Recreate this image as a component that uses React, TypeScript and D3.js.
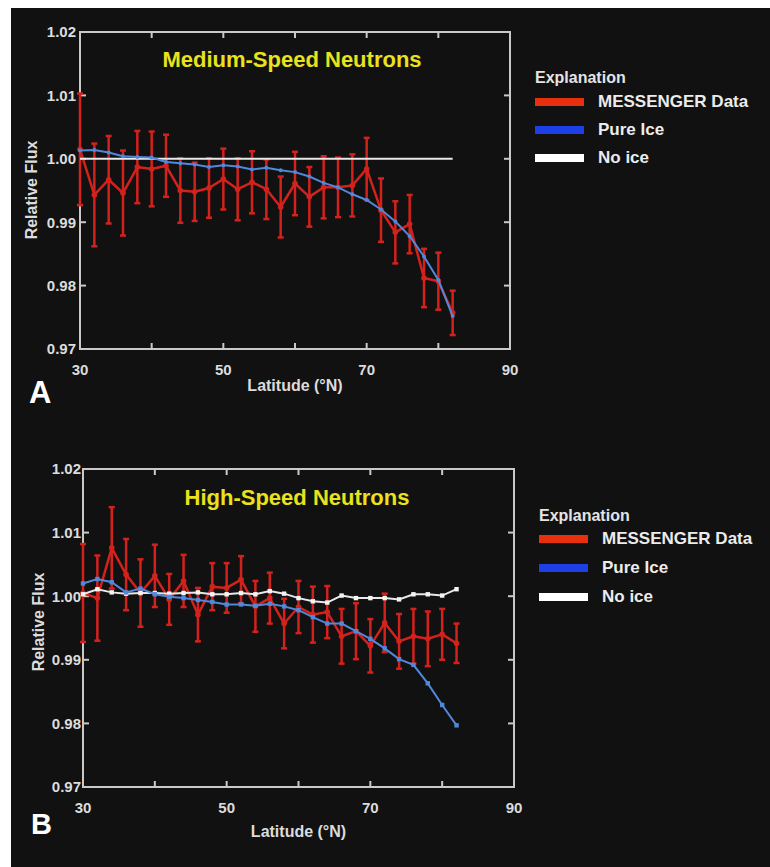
import React from "react";
import * as d3 from "d3";

const LAT = [30, 32, 34, 36, 38, 40, 42, 44, 46, 48, 50, 52, 54, 56, 58, 60, 62, 64, 66, 68, 70, 72, 74, 76, 78, 80, 82];

const MED_DATA = [1.0015, 0.9943, 0.9967, 0.9946, 0.9987, 0.9984, 0.9989, 0.995, 0.9948, 0.9954, 0.9968, 0.9952, 0.9963, 0.9952, 0.9924, 0.9961, 0.994, 0.9955, 0.9955, 0.9958, 0.9984, 0.9919, 0.9884, 0.9897, 0.9812, 0.9807, 0.9757];
const MED_ERR = [0.0088, 0.0081, 0.0069, 0.0067, 0.0057, 0.0059, 0.0049, 0.0051, 0.0046, 0.0047, 0.0048, 0.0049, 0.0049, 0.0047, 0.0048, 0.005, 0.0047, 0.0049, 0.0047, 0.0049, 0.0049, 0.005, 0.0049, 0.0046, 0.0046, 0.0045, 0.0035];
const MED_ICE = [1.0013, 1.0014, 1.001, 1.0004, 1.0003, 1.0002, 0.9995, 0.9993, 0.9991, 0.9987, 0.999, 0.9988, 0.9983, 0.9986, 0.9982, 0.9979, 0.9972, 0.9962, 0.9955, 0.9944, 0.9935, 0.992, 0.9901, 0.9878, 0.9846, 0.9809, 0.9752];
const MED_NOICE = [1, 1, 1, 1, 1, 1, 1, 1, 1, 1, 1, 1, 1, 1, 1, 1, 1, 1, 1, 1, 1, 1, 1, 1, 1, 1, 1];

const HIGH_DATA = [1.0005, 0.9997, 1.0076, 1.0034, 1.0005, 1.0032, 0.9995, 1.0024, 0.9971, 1.0015, 1.0013, 1.0026, 0.9984, 0.9997, 0.9957, 0.9983, 0.9971, 0.9975, 0.9937, 0.9945, 0.9922, 0.9958, 0.9929, 0.9937, 0.9933, 0.994, 0.9926];
const HIGH_ERR = [0.0077, 0.0067, 0.0064, 0.0056, 0.0053, 0.0049, 0.004, 0.0041, 0.0042, 0.0037, 0.0039, 0.0037, 0.004, 0.004, 0.0039, 0.0041, 0.0044, 0.0041, 0.0043, 0.0044, 0.0042, 0.0046, 0.0043, 0.0043, 0.0043, 0.004, 0.0031];
const HIGH_ICE = [1.002, 1.0027, 1.0022, 1.0006, 1.0012, 1.0003, 0.9999, 0.9997, 0.9994, 0.9991, 0.9987, 0.9987, 0.9985, 0.9988, 0.9984, 0.9978, 0.9967, 0.9957, 0.9957, 0.9945, 0.9933, 0.9918, 0.9901, 0.9892, 0.9863, 0.9829, 0.9797];
const HIGH_NOICE = [1.0003, 1.0011, 1.0006, 1.0004, 1.0005, 1.0005, 1.0004, 1.0005, 1.0006, 1.0003, 1.0003, 1.0005, 1.0003, 1.0008, 1.0004, 0.9997, 0.9992, 0.999, 1.0001, 0.9997, 0.9997, 0.9997, 0.9995, 1.0003, 1.0003, 1.0001, 1.0011];

const Y_TICKS = [0.97, 0.98, 0.99, 1.0, 1.01, 1.02];
const X_TICKS = [30, 40, 50, 60, 70, 80, 90];
const X_LABELS = [30, 50, 70, 90];
const LEGEND = ["MESSENGER Data", "Pure Ice", "No ice"];
const LEGEND_COLORS = ["#e8300f", "#1f3fe6", "#ffffff"];

const FONT = "'Liberation Sans', Arial, sans-serif";
const AXIS = "#c9c9c9";
const LABEL = "#dcdcdc";
const RED = "#d3221c";
const BLUE = "#5088dc";
const WHITE = "#e8e8e8";

type Cfg = {
  left: number; right: number; top: number; bottom: number;
  title: string; titleX: number; titleY: number;
  ylabX: number; xlabY: number; latY: number; relX: number; relY: number;
  letter: string; letterX: number; letterY: number; letterSize: number;
  legX: number; legY: number; legStep: number; legTitleY: number;
  data: number[]; err: number[]; ice: number[]; noice: number[];
  squares: boolean;
};

function Panel({ c }: { c: Cfg }) {
  const x = d3.scaleLinear().domain([30, 90]).range([c.left, c.right]);
  const y = d3.scaleLinear().domain([0.97, 1.02]).range([c.bottom, c.top]);
  const line = (vals: number[]) =>
    d3.line<number>().x((_, i) => x(LAT[i])).y((v) => y(v))(vals) || "";
  const tl = 6;
  return (
    <g>
      {/* frame */}
      <rect x={c.left} y={c.top} width={c.right - c.left} height={c.bottom - c.top} fill="none" stroke={AXIS} strokeWidth={2} />
      {X_TICKS.slice(1, -1).map((t) => (
        <g key={"xt" + t}>
          <line x1={x(t)} x2={x(t)} y1={c.top} y2={c.top + tl} stroke={AXIS} strokeWidth={2} />
          <line x1={x(t)} x2={x(t)} y1={c.bottom} y2={c.bottom - tl} stroke={AXIS} strokeWidth={2} />
        </g>
      ))}
      {Y_TICKS.slice(1, -1).map((t) => (
        <g key={"yt" + t}>
          <line x1={c.left} x2={c.left + tl} y1={y(t)} y2={y(t)} stroke={AXIS} strokeWidth={2} />
          <line x1={c.right} x2={c.right - tl} y1={y(t)} y2={y(t)} stroke={AXIS} strokeWidth={2} />
        </g>
      ))}
      {Y_TICKS.map((t) => (
        <text key={"yl" + t} x={c.ylabX} y={y(t)} dy="0.36em" textAnchor="end" fill={LABEL} fontSize={15} fontWeight="bold" fontFamily={FONT}>
          {t.toFixed(2)}
        </text>
      ))}
      {X_LABELS.map((t) => (
        <text key={"xl" + t} x={x(t)} y={c.xlabY} textAnchor="middle" fill={LABEL} fontSize={15} fontWeight="bold" fontFamily={FONT}>
          {t}
        </text>
      ))}
      <text x={(c.left + c.right) / 2} y={c.latY} textAnchor="middle" fill={LABEL} fontSize={16} fontWeight="bold" fontFamily={FONT}>
        Latitude (°N)
      </text>
      <text transform={`translate(${c.relX},${c.relY}) rotate(-90)`} textAnchor="middle" fill={LABEL} fontSize={16} fontWeight="bold" fontFamily={FONT}>
        Relative Flux
      </text>
      <text x={c.titleX} y={c.titleY} textAnchor="middle" fill="#e9e21c" fontSize={22} fontWeight="bold" fontFamily={FONT}>
        {c.title}
      </text>
      <text x={c.letterX} y={c.letterY} fill="#ffffff" fontSize={c.letterSize} fontWeight="bold" fontFamily={FONT}>
        {c.letter}
      </text>

      {/* MESSENGER data */}
      {c.data.map((v, i) => (
        <g key={"eb" + i} stroke={RED} strokeWidth={2.5}>
          <line x1={x(LAT[i])} x2={x(LAT[i])} y1={y(v + c.err[i])} y2={y(v - c.err[i])} />
          <line x1={x(LAT[i]) - 3} x2={x(LAT[i]) + 3} y1={y(v + c.err[i])} y2={y(v + c.err[i])} />
          <line x1={x(LAT[i]) - 3} x2={x(LAT[i]) + 3} y1={y(v - c.err[i])} y2={y(v - c.err[i])} />
        </g>
      ))}
      <path d={line(c.data)} fill="none" stroke={RED} strokeWidth={2.5} strokeLinejoin="round" />
      {c.data.map((v, i) => (
        <circle key={"rd" + i} cx={x(LAT[i])} cy={y(v)} r={2.8} fill={RED} />
      ))}

      {/* No ice */}
      <path d={line(c.noice)} fill="none" stroke={WHITE} strokeWidth={2} />
      {c.squares &&
        c.noice.map((v, i) => (
          <rect key={"wn" + i} x={x(LAT[i]) - 2.2} y={y(v) - 2.2} width={4.4} height={4.4} fill="#f4f4f4" />
        ))}

      {/* Pure ice */}
      <path d={line(c.ice)} fill="none" stroke={BLUE} strokeWidth={2} />
      {c.ice.map((v, i) =>
        c.squares ? (
          <rect key={"bi" + i} x={x(LAT[i]) - 2.2} y={y(v) - 2.2} width={4.4} height={4.4} fill={BLUE} />
        ) : (
          <circle key={"bi" + i} cx={x(LAT[i])} cy={y(v)} r={2} fill={BLUE} />
        )
      )}

      {/* legend */}
      <text x={c.legX} y={c.legTitleY} fill="#e4e4e4" fontSize={16} fontWeight="bold" fontFamily={FONT}>
        Explanation
      </text>
      {LEGEND.map((name, i) => (
        <g key={name}>
          <rect x={c.legX} y={c.legY + i * c.legStep - 4} width={49} height={8} fill={LEGEND_COLORS[i]} />
          <text x={c.legX + 63} y={c.legY + i * c.legStep + 5} fill="#ececec" fontSize={17} fontWeight="bold" fontFamily={FONT}>
            {name}
          </text>
        </g>
      ))}
    </g>
  );
}

const PANEL_A: Cfg = {
  left: 80, right: 510, top: 32, bottom: 349,
  title: "Medium-Speed Neutrons", titleX: 292, titleY: 67,
  ylabX: 76, xlabY: 375, latY: 391, relX: 37, relY: 190,
  letter: "A", letterX: 29, letterY: 403, letterSize: 31,
  legX: 535, legY: 102, legStep: 28, legTitleY: 83,
  data: MED_DATA, err: MED_ERR, ice: MED_ICE, noice: MED_NOICE,
  squares: false,
};

const PANEL_B: Cfg = {
  left: 83, right: 514, top: 469, bottom: 787,
  title: "High-Speed Neutrons", titleX: 297, titleY: 505,
  ylabX: 81, xlabY: 813, latY: 837, relX: 44, relY: 622,
  letter: "B", letterX: 31, letterY: 834, letterSize: 29,
  legX: 539, legY: 539, legStep: 29, legTitleY: 521,
  data: HIGH_DATA, err: HIGH_ERR, ice: HIGH_ICE, noice: HIGH_NOICE,
  squares: true,
};

export default function App() {
  return (
    <svg width={770} height={867} style={{ position: "absolute", left: 0, top: 0 }}>
      <rect x={0} y={0} width={770} height={867} fill="#ffffff" />
      <rect x={11} y={8} width={759} height={859} fill="#111111" />
      <Panel c={PANEL_A} />
      <Panel c={PANEL_B} />
    </svg>
  );
}
